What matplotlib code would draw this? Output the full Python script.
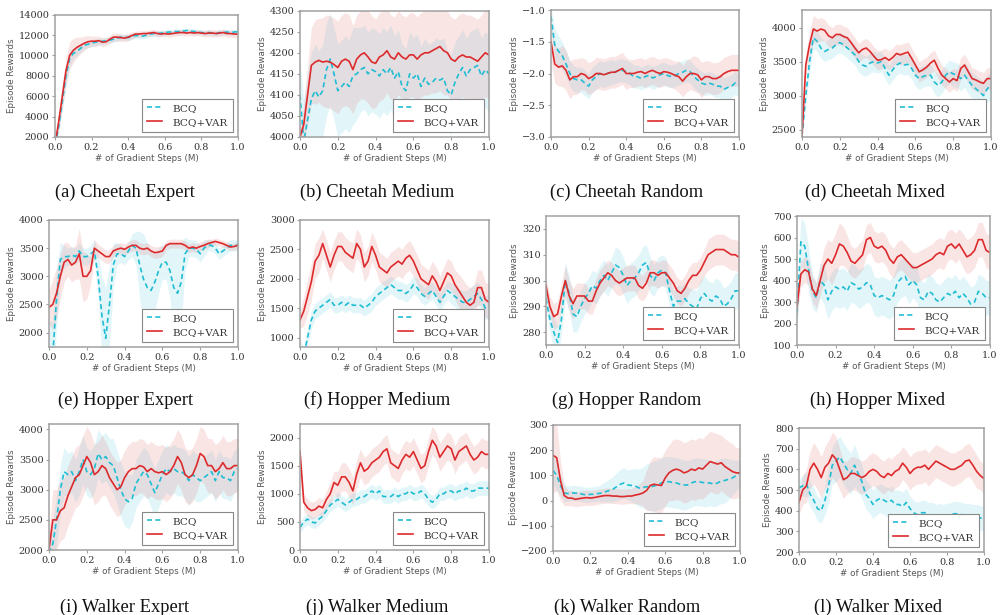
import numpy as np
import matplotlib
matplotlib.use("Agg")
import matplotlib.pyplot as plt

# ---------------- data ----------------
steps = np.linspace(0.0, 1.0, 51)   # gradient steps (M)
labels = ["BCQ", "BCQ+VAR"]
captions = ["(a) Cheetah Expert", "(b) Cheetah Medium", "(c) Cheetah Random", "(d) Cheetah Mixed",
            "(e) Hopper Expert", "(f) Hopper Medium", "(g) Hopper Random", "(h) Hopper Mixed",
            "(i) Walker Expert", "(j) Walker Medium", "(k) Walker Random", "(l) Walker Mixed"]

a_var = [1200, 3500, 6000, 8500, 10000, 10500, 10800, 11000, 11200, 11350,
         11400, 11400, 11450, 11300, 11350, 11600, 11800, 11800, 11750, 11700,
         11800, 11950, 12100, 12100, 12150, 12150, 12200, 12250, 12150, 12100,
         12150, 12100, 12150, 12200, 12250, 12250, 12200, 12250, 12200, 12250,
         12200, 12150, 12200, 12200, 12150, 12200, 12250, 12150, 12150, 12100,
         12100]
a_bcq = [1200, 3000, 5500, 8000, 9700, 10200, 10400, 10700, 11000, 11100,
         11200, 11300, 11350, 11400, 11450, 11500, 11600, 11700, 11800, 11800,
         11750, 11900, 11950, 11950, 11900, 12000, 12100, 12150, 12150, 12200,
         12250, 12300, 12300, 12350, 12350, 12400, 12450, 12400, 12350, 12300,
         12250, 12200, 12250, 12200, 12150, 12250, 12250, 12300, 12250, 12300,
         12350]
a_var_sd = [300, 800, 1200, 1300, 1300, 1200, 1000, 800, 700, 600,
            500, 500, 450, 450, 400, 400, 400, 400, 350, 350,
            350, 350, 300, 300, 300, 300, 300, 300, 300, 300,
            300, 300, 300, 300, 300, 300, 300, 300, 300, 300,
            300, 350, 350, 350, 350, 350, 350, 350, 350, 350,
            350]
a_bcq_sd = [300, 600, 900, 1000, 800, 500, 400, 400, 350, 350,
            350, 350, 300, 300, 300, 300, 300, 300, 300, 300,
            300, 300, 300, 300, 300, 300, 300, 300, 300, 300,
            250, 250, 250, 250, 250, 250, 250, 250, 250, 250,
            250, 250, 250, 250, 250, 250, 250, 250, 250, 250,
            250]

b_var = [4000, 4030, 4100, 4170, 4178, 4182, 4178, 4180, 4178, 4172,
         4165, 4180, 4185, 4180, 4160, 4185, 4195, 4200, 4190, 4178,
         4175, 4190, 4195, 4205, 4190, 4185, 4200, 4190, 4185, 4195,
         4195, 4185, 4195, 4200, 4200, 4205, 4210, 4215, 4205, 4200,
         4185, 4180, 4190, 4195, 4190, 4190, 4185, 4180, 4190, 4200,
         4195]
b_bcq = [4100, 3990, 4040, 4090, 4110, 4095, 4110, 4160, 4185, 4150,
         4110, 4120, 4130, 4120, 4145, 4150, 4160, 4165, 4150, 4160,
         4155, 4145, 4160, 4150, 4165, 4140, 4155, 4120, 4110, 4150,
         4140, 4150, 4120, 4140, 4125, 4130, 4140, 4135, 4140, 4110,
         4100, 4130, 4150, 4165, 4145, 4160, 4165, 4170, 4145, 4160,
         4150]
b_var_sd = [10, 50, 70, 90, 100, 100, 105, 110, 110, 110,
            110, 110, 110, 110, 105, 105, 105, 110, 110, 110,
            105, 105, 105, 100, 100, 100, 100, 100, 100, 100,
            100, 100, 100, 100, 100, 100, 105, 105, 105, 100,
            100, 100, 100, 100, 100, 100, 100, 100, 100, 105,
            105]
b_bcq_sd = [80, 100, 110, 110, 110, 110, 110, 110, 110, 110,
            110, 110, 110, 110, 115, 110, 100, 100, 100, 100,
            100, 100, 100, 100, 100, 100, 100, 100, 100, 100,
            95, 95, 95, 95, 95, 95, 95, 95, 95, 95,
            95, 95, 90, 90, 90, 90, 90, 90, 90, 90,
            90]

c_var = [-1.5, -1.85, -1.9, -1.88, -1.95, -2.1, -2.05, -2.05, -2.0, -2.02,
         -2.08, -2.05, -2.0, -2.0, -2.02, -2.0, -1.98, -1.98, -1.95, -1.92,
         -2.0, -2.0, -2.0, -1.98, -1.97, -2.0, -1.97, -1.95, -1.98, -2.0,
         -1.97, -1.98, -2.0, -2.03, -2.05, -2.12, -2.05, -2.0, -2.0, -2.02,
         -2.1, -2.05, -2.05, -2.08, -2.08, -2.05, -2.0, -1.97, -1.95, -1.95,
         -1.95]
c_bcq = [-1.1, -1.55, -1.65, -1.72, -1.85, -2.0, -2.08, -2.1, -2.1, -2.15,
         -2.2, -2.1, -2.05, -2.0, -2.02, -2.0, -1.98, -1.98, -1.95, -1.95,
         -1.97, -2.0, -2.05, -2.05, -2.08, -2.05, -2.03, -2.07, -2.05, -2.02,
         -2.0, -2.03, -2.05, -2.03, -2.0, -1.98, -1.95, -1.97, -2.05, -2.1,
         -2.15, -2.17, -2.15, -2.17, -2.2, -2.2, -2.25, -2.22, -2.2, -2.15,
         -2.18]
c_var_sd = [0.3, 0.3, 0.3, 0.32, 0.32, 0.3, 0.28, 0.28, 0.25, 0.25,
            0.25, 0.25, 0.25, 0.25, 0.25, 0.25, 0.25, 0.25, 0.25, 0.25,
            0.25, 0.22, 0.22, 0.22, 0.22, 0.22, 0.22, 0.22, 0.22, 0.22,
            0.22, 0.22, 0.22, 0.22, 0.25, 0.25, 0.25, 0.25, 0.28, 0.28,
            0.28, 0.25, 0.25, 0.25, 0.25, 0.25, 0.25, 0.25, 0.25, 0.25,
            0.25]
c_bcq_sd = [0.15, 0.25, 0.25, 0.22, 0.2, 0.2, 0.2, 0.2, 0.2, 0.2,
            0.2, 0.2, 0.2, 0.2, 0.2, 0.2, 0.2, 0.18, 0.18, 0.18,
            0.18, 0.18, 0.18, 0.18, 0.18, 0.18, 0.18, 0.18, 0.18, 0.18,
            0.18, 0.18, 0.18, 0.18, 0.18, 0.18, 0.18, 0.18, 0.18, 0.18,
            0.18, 0.18, 0.18, 0.18, 0.18, 0.18, 0.18, 0.18, 0.18, 0.18,
            0.18]

d_var = [2400, 3450, 3750, 3980, 3950, 3980, 3960, 3880, 3850, 3900,
         3900, 3870, 3850, 3780, 3700, 3630, 3680, 3700, 3650, 3580,
         3520, 3530, 3560, 3520, 3560, 3620, 3600, 3620, 3640, 3550,
         3450, 3350, 3380, 3420, 3480, 3520, 3400, 3300, 3250, 3200,
         3250, 3220, 3400, 3450, 3350, 3250, 3230, 3200, 3180, 3250,
         3250]
d_bcq = [2400, 3000, 3500, 3850, 3800, 3700, 3650, 3680, 3700, 3750,
         3780, 3750, 3700, 3650, 3600, 3500, 3450, 3430, 3480, 3500,
         3480, 3500, 3400, 3300, 3380, 3450, 3480, 3450, 3460, 3400,
         3300, 3250, 3280, 3300, 3300, 3200, 3150, 3200, 3300, 3350,
         3320, 3300, 3250, 3300, 3220, 3150, 3100, 3050, 3000, 3100,
         3150]
d_var_sd = [50, 150, 200, 200, 180, 170, 160, 160, 150, 150,
            150, 150, 150, 150, 150, 140, 140, 140, 140, 140,
            140, 140, 140, 140, 140, 140, 150, 150, 150, 150,
            150, 150, 150, 150, 150, 150, 150, 150, 150, 150,
            150, 160, 160, 160, 160, 160, 160, 160, 160, 160,
            160]
d_bcq_sd = [50, 150, 180, 160, 150, 150, 150, 150, 150, 150,
            150, 150, 150, 150, 150, 150, 150, 150, 150, 150,
            150, 150, 150, 150, 150, 150, 150, 150, 150, 150,
            160, 160, 160, 160, 160, 170, 170, 170, 170, 170,
            180, 180, 180, 180, 190, 190, 200, 200, 200, 200,
            200]

e_var = [2450, 2500, 2700, 3000, 3250, 3300, 3200, 3250, 3400, 3000,
         3000, 3100, 3500, 3450, 3400, 3350, 3350, 3450, 3480, 3500,
         3480, 3520, 3550, 3550, 3500, 3480, 3500, 3450, 3420, 3430,
         3450, 3550, 3580, 3580, 3580, 3580, 3550, 3500, 3520, 3500,
         3530, 3550, 3580, 3600, 3620, 3600, 3580, 3550, 3520, 3530,
         3550]
e_bcq = [1700, 1600, 2600, 3300, 3350, 3350, 3380, 3350, 3450, 3350,
         3350, 3400, 3450, 3000, 2300, 1900, 2500, 3200, 3400, 3400,
         3350, 3450, 3550, 3500, 3200, 2950, 2800, 2750, 2900, 3100,
         3250, 3250, 3100, 2800, 2700, 2900, 3400, 3500, 3500, 3480,
         3400, 3500, 3550, 3550, 3500, 3400, 3450, 3500, 3550, 3550,
         3550]
e_var_sd = [300, 450, 450, 400, 350, 300, 300, 300, 450, 450,
            400, 250, 150, 120, 120, 120, 120, 100, 100, 100,
            100, 100, 100, 100, 100, 100, 100, 100, 100, 100,
            100, 80, 80, 80, 80, 80, 80, 80, 80, 80,
            80, 80, 80, 60, 60, 60, 60, 60, 60, 60,
            60]
e_bcq_sd = [500, 600, 500, 300, 200, 150, 150, 150, 150, 150,
            150, 150, 200, 400, 700, 900, 700, 400, 200, 150,
            150, 150, 200, 300, 600, 800, 800, 700, 500, 400,
            300, 300, 500, 800, 900, 700, 300, 150, 150, 150,
            150, 150, 100, 100, 100, 100, 100, 100, 100, 100,
            100]

f_var = [1300, 1450, 1700, 1950, 2300, 2400, 2600, 2400, 2200, 2400,
         2550, 2550, 2450, 2400, 2350, 2600, 2500, 2200, 2300, 2550,
         2400, 2200, 2150, 2100, 2200, 2250, 2300, 2250, 2350, 2400,
         2300, 2150, 2000, 1950, 1900, 2050, 1950, 1800, 1950, 2100,
         2050, 1900, 1800, 1700, 1600, 1550, 1600, 1850, 1850, 1650,
         1600]
f_bcq = [800, 700, 1000, 1300, 1450, 1500, 1550, 1600, 1650, 1550,
         1550, 1600, 1550, 1600, 1550, 1550, 1550, 1500, 1550, 1600,
         1700, 1750, 1800, 1850, 1900, 1850, 1800, 1800, 1750, 1800,
         1900, 1850, 1750, 1700, 1750, 1800, 1700, 1600, 1700, 1800,
         1750, 1700, 1650, 1600, 1600, 1650, 1700, 1750, 1650, 1500,
         1550]
f_var_sd = [150, 250, 300, 300, 300, 300, 250, 250, 250, 250,
            250, 250, 250, 250, 250, 250, 250, 250, 250, 250,
            250, 250, 250, 250, 250, 250, 250, 250, 250, 250,
            250, 250, 250, 250, 250, 250, 250, 250, 250, 250,
            250, 250, 280, 300, 300, 300, 300, 300, 300, 300,
            300]
f_bcq_sd = [150, 150, 150, 150, 130, 130, 130, 130, 130, 130,
            130, 130, 130, 130, 130, 130, 130, 130, 150, 150,
            150, 150, 150, 150, 150, 150, 150, 150, 150, 150,
            150, 150, 150, 150, 150, 150, 150, 150, 150, 150,
            180, 180, 180, 200, 200, 200, 200, 200, 200, 200,
            200]

g_var = [298, 290, 286, 287, 294, 300, 294, 291, 294, 294,
         294, 292, 292, 296, 299, 301, 303, 302, 300, 299,
         300, 301, 301, 301, 298, 297, 299, 303, 303, 302,
         303, 303, 301, 299, 296, 295, 297, 300, 302, 302,
         304, 307, 310, 311, 312, 312, 312, 311, 310, 310,
         309]
g_bcq = [293, 285, 280, 276, 285, 300, 295, 287, 286, 290,
         293, 295, 298, 297, 300, 302, 300, 303, 306, 305,
         302, 298, 300, 301, 303, 306, 307, 302, 300, 303,
         304, 303, 296, 290, 292, 292, 293, 291, 290, 289,
         293, 295, 293, 292, 294, 293, 290, 291, 293, 296,
         296]
g_var_sd = [3, 4, 5, 5, 5, 6, 6, 6, 5, 5,
            5, 5, 5, 5, 5, 5, 5, 5, 5, 5,
            5, 5, 5, 5, 5, 5, 5, 5, 5, 5,
            5, 5, 5, 5, 5, 5, 5, 5, 5, 5,
            5, 5, 6, 6, 6, 6, 6, 6, 6, 6,
            6]
g_bcq_sd = [4, 5, 6, 6, 6, 7, 7, 7, 6, 6,
            6, 6, 6, 6, 6, 6, 6, 6, 7, 7,
            7, 7, 7, 7, 7, 7, 7, 7, 6, 6,
            6, 6, 6, 6, 6, 6, 6, 6, 7, 7,
            7, 7, 7, 7, 7, 7, 7, 7, 7, 7,
            7]

h_var = [280, 430, 450, 440, 360, 330, 400, 470, 500, 480,
         520, 570, 560, 530, 490, 480, 500, 520, 590, 600,
         560, 550, 560, 540, 500, 480, 510, 520, 500, 480,
         460, 460, 470, 480, 490, 500, 520, 530, 520, 560,
         570, 550, 570, 540, 510, 520, 540, 590, 590, 540,
         530]
h_bcq = [250, 580, 560, 450, 350, 320, 400, 380, 310, 350,
         370, 360, 370, 350, 390, 380, 360, 370, 390, 380,
         330, 320, 330, 320, 310, 330, 390, 410, 420, 380,
         400, 380, 320, 310, 350, 340, 310, 300, 320, 340,
         330, 350, 320, 340, 320, 290, 300, 350, 340, 320,
         320]
h_var_sd = [50, 60, 60, 60, 60, 60, 70, 80, 90, 100,
            100, 100, 90, 80, 70, 70, 70, 70, 70, 70,
            70, 70, 70, 70, 70, 70, 70, 70, 70, 70,
            70, 70, 70, 70, 70, 70, 70, 70, 70, 70,
            70, 70, 70, 80, 80, 80, 80, 80, 80, 80,
            80]
h_bcq_sd = [80, 110, 110, 100, 80, 70, 80, 90, 90, 90,
            90, 90, 90, 90, 90, 90, 90, 90, 90, 90,
            90, 90, 90, 90, 90, 90, 90, 90, 90, 90,
            80, 80, 80, 80, 80, 80, 80, 80, 80, 80,
            80, 80, 80, 80, 80, 80, 80, 80, 80, 80,
            80]

i_var = [2000, 2500, 2500, 2650, 2700, 2900, 3050, 3200, 3250, 3400,
         3550, 3450, 3250, 3300, 3400, 3350, 3200, 3100, 3000, 3050,
         3200, 3300, 3350, 3350, 3400, 3380, 3300, 3350, 3300, 3280,
         3300, 3250, 3300, 3400, 3550, 3450, 3250, 3200, 3250, 3400,
         3600, 3550, 3400, 3400, 3300, 3350, 3450, 3350, 3350, 3400,
         3400]
i_bcq = [1950, 2100, 2500, 3000, 3300, 3250, 3300, 3150, 3300, 3500,
         3300, 3250, 3350, 3600, 3500, 3550, 3450, 3400, 3200, 3000,
         2850, 2800, 2850, 3100, 3200, 3300, 3250, 3100, 2950, 3100,
         3250, 3350, 3300, 3350, 3300, 3300, 3250, 3150, 3250, 3200,
         3150, 3200, 3250, 3300, 3150, 3300, 3200, 3200, 3150, 3300,
         3350]
i_var_sd = [300, 500, 500, 500, 500, 500, 500, 500, 500, 500,
            500, 500, 500, 500, 500, 450, 450, 450, 450, 450,
            450, 450, 450, 450, 450, 450, 450, 450, 450, 450,
            450, 450, 450, 450, 450, 450, 450, 450, 450, 450,
            450, 450, 450, 450, 450, 450, 450, 450, 450, 450,
            450]
i_bcq_sd = [300, 400, 400, 400, 400, 350, 350, 350, 400, 400,
            400, 400, 400, 400, 400, 400, 400, 450, 450, 450,
            450, 450, 400, 400, 400, 400, 400, 400, 400, 400,
            400, 400, 400, 400, 400, 400, 400, 400, 400, 400,
            350, 350, 350, 350, 350, 350, 350, 350, 350, 350,
            350]

j_var = [1750, 850, 750, 700, 720, 780, 750, 900, 1000, 1200,
         1150, 1300, 1300, 1200, 1050, 1350, 1550, 1400, 1450, 1550,
         1600, 1650, 1750, 1800, 1550, 1500, 1450, 1600, 1700, 1650,
         1750, 1600, 1450, 1500, 1750, 1950, 1850, 1650, 1750, 1850,
         1800, 1600, 1750, 1800, 1850, 1700, 1600, 1650, 1750, 1700,
         1700]
j_bcq = [400, 500, 550, 500, 480, 550, 600, 700, 800, 850,
         900, 850, 800, 850, 900, 900, 950, 950, 1000, 1050,
         1000, 1050, 950, 950, 950, 1000, 950, 1000, 1000, 1050,
         1000, 1000, 1050, 1000, 900, 850, 900, 1000, 1000, 1050,
         1050, 1000, 1050, 1050, 1100, 1050, 1050, 1100, 1100, 1100,
         1100]
j_var_sd = [100, 150, 150, 150, 150, 150, 150, 150, 200, 200,
            250, 250, 250, 250, 250, 250, 250, 250, 250, 250,
            250, 250, 250, 250, 250, 250, 250, 250, 250, 250,
            250, 250, 250, 250, 250, 250, 250, 250, 250, 250,
            250, 250, 250, 250, 250, 250, 250, 250, 250, 250,
            250]
j_bcq_sd = [100, 100, 100, 100, 100, 100, 100, 110, 110, 120,
            120, 120, 120, 120, 120, 120, 120, 120, 120, 120,
            120, 120, 120, 120, 120, 120, 120, 120, 120, 120,
            120, 120, 120, 120, 120, 120, 120, 120, 120, 120,
            130, 130, 130, 130, 130, 130, 130, 130, 130, 130,
            130]

k_var = [180, 170, 80, 20, 10, 10, 5, 8, 10, 12,
         10, 12, 15, 18, 20, 20, 18, 18, 16, 16,
         18, 18, 22, 25, 30, 40, 60, 65, 62, 60,
         90, 110, 120, 125, 120, 110, 115, 125, 120, 130,
         125, 140, 155, 150, 145, 150, 135, 125, 115, 110,
         110]
k_bcq = [120, 100, 60, 30, 28, 30, 30, 28, 25, 22,
         25, 25, 28, 30, 35, 40, 45, 55, 65, 70,
         62, 60, 58, 50, 52, 55, 55, 58, 62, 70,
         75, 75, 72, 70, 65, 62, 62, 70, 75, 75,
         72, 70, 70, 65, 70, 78, 80, 85, 90, 100,
         110]
k_var_sd = [150, 130, 80, 40, 30, 30, 30, 30, 30, 30,
            30, 30, 30, 30, 30, 30, 30, 30, 30, 30,
            30, 30, 35, 40, 50, 80, 100, 110, 110, 110,
            110, 110, 120, 120, 120, 120, 120, 120, 120, 120,
            120, 120, 120, 120, 120, 110, 110, 110, 110, 100,
            100]
k_bcq_sd = [60, 60, 40, 35, 30, 30, 30, 30, 30, 30,
            30, 30, 30, 35, 40, 45, 50, 55, 60, 60,
            60, 65, 70, 75, 80, 90, 95, 100, 100, 100,
            100, 100, 100, 100, 100, 100, 95, 95, 95, 95,
            95, 95, 90, 90, 90, 90, 90, 80, 70, 60,
            50]

l_var = [440, 500, 520, 600, 630, 600, 560, 610, 630, 670,
         650, 600, 550, 560, 580, 580, 570, 560, 570, 590,
         600, 590, 570, 560, 580, 570, 590, 600, 630, 610,
         580, 600, 610, 610, 620, 600, 620, 640, 630, 620,
         610, 600, 600, 610, 620, 640, 645, 620, 590, 570,
         555]
l_bcq = [510, 520, 530, 480, 450, 410, 400, 450, 520, 620,
         640, 660, 630, 600, 580, 620, 580, 540, 480, 460,
         430, 450, 460, 450, 440, 450, 430, 430, 420, 440,
         410, 390, 380, 390, 390, 380, 380, 370, 375, 370,
         375, 380, 385, 385, 380, 375, 375, 370, 370, 365,
         360]
l_var_sd = [60, 70, 80, 90, 100, 100, 100, 100, 110, 110,
            110, 100, 90, 80, 80, 80, 80, 80, 80, 80,
            80, 80, 80, 80, 80, 80, 80, 80, 80, 80,
            80, 80, 80, 80, 80, 80, 80, 80, 80, 80,
            80, 80, 80, 80, 80, 80, 80, 80, 80, 70,
            70]
l_bcq_sd = [40, 50, 60, 60, 60, 60, 60, 70, 80, 90,
            100, 100, 100, 100, 100, 100, 90, 80, 70, 70,
            70, 70, 70, 70, 70, 70, 70, 70, 70, 70,
            60, 60, 60, 60, 60, 60, 60, 60, 60, 60,
            60, 60, 60, 60, 60, 60, 60, 60, 60, 60,
            60]

series = [(a_bcq, a_bcq_sd, a_var, a_var_sd), (b_bcq, b_bcq_sd, b_var, b_var_sd),
          (c_bcq, c_bcq_sd, c_var, c_var_sd), (d_bcq, d_bcq_sd, d_var, d_var_sd),
          (e_bcq, e_bcq_sd, e_var, e_var_sd), (f_bcq, f_bcq_sd, f_var, f_var_sd),
          (g_bcq, g_bcq_sd, g_var, g_var_sd), (h_bcq, h_bcq_sd, h_var, h_var_sd),
          (i_bcq, i_bcq_sd, i_var, i_var_sd), (j_bcq, j_bcq_sd, j_var, j_var_sd),
          (k_bcq, k_bcq_sd, k_var, k_var_sd), (l_bcq, l_bcq_sd, l_var, l_var_sd)]

ylims = [(2000, 14000), (4000, 4300), (-3.0, -1.0), (2390, 4260),
         (1745, 4000), (840, 3000), (275, 325), (100, 700),
         (2000, 4090), (0, 2240), (-200, 300), (200, 800)]
yticks = [np.arange(2000, 14001, 2000), np.arange(4000, 4301, 50), np.arange(-3.0, -0.99, 0.5),
          np.arange(2500, 4001, 500),
          np.arange(2000, 4001, 500), np.arange(1000, 3001, 500), np.arange(280, 321, 10),
          np.arange(100, 701, 100),
          np.arange(2000, 4001, 500), np.arange(0, 2001, 500), np.arange(-200, 301, 100),
          np.arange(200, 801, 100)]

# ---------------- layout (pixels: left, right, top, bottom) ----------------
W, H = 1000, 615
boxes = [(55, 238, 14.7, 137), (300, 489, 10.7, 137), (551, 739, 10, 137), (802, 991, 10, 137),
         (49, 238, 220, 347), (300, 489, 220, 347), (546, 739, 216, 345), (797, 990, 216, 345),
         (49, 238, 424, 550), (300, 489, 424, 550), (553, 740, 425, 551), (799, 984, 428, 552)]
cap_pos = [(125, 197), (377, 197), (627, 197), (875, 197),
           (126, 405), (377, 405), (627, 405), (877, 405),
           (125, 612), (377, 612), (627, 612), (878, 612)]

RED = "#dd2a2c"
CYAN = "#1fbdd3"
SPINE = "#a0a0a0"

fig = plt.figure(figsize=(W / 100, H / 100), dpi=100)
fig.patch.set_facecolor("white")

for idx in range(12):
    l, r, t, b = boxes[idx]
    ax = fig.add_axes([l / W, 1 - b / H, (r - l) / W, (b - t) / H])
    bcq, bcq_sd, var, var_sd = [np.asarray(v, dtype=float) for v in series[idx]]
    ax.fill_between(steps, bcq - bcq_sd, bcq + bcq_sd, color=CYAN, alpha=0.13, lw=0)
    ax.fill_between(steps, var - var_sd, var + var_sd, color=RED, alpha=0.12, lw=0)
    ax.plot(steps, bcq, color=CYAN, lw=1.2, ls=(0, (3, 2)), label=labels[0])
    ax.plot(steps, var, color=RED, lw=1.2, label=labels[1])
    ax.set_xlim(0, 1)
    ax.set_ylim(*ylims[idx])
    ax.set_xticks(np.arange(0, 1.01, 0.2))
    ax.set_yticks(yticks[idx])
    ax.xaxis.set_major_formatter(matplotlib.ticker.FormatStrFormatter("%.1f"))
    if idx == 2:
        ax.yaxis.set_major_formatter(matplotlib.ticker.FuncFormatter(
            lambda v, p: ("%.1f" % v).replace("-", "\u2212")))
    for s in ax.spines.values():
        s.set_color(SPINE)
        s.set_linewidth(1.1)
    ax.tick_params(direction="out", length=2.5, width=0.8, color=SPINE,
                   labelsize=7, labelcolor="#333333", pad=1.5)
    for lab in ax.get_xticklabels() + ax.get_yticklabels():
        lab.set_family("DejaVu Serif")
    ax.set_xlabel("# of Gradient Steps (M)", fontsize=6.3, color="#555555",
                  family="DejaVu Sans", labelpad=1.5)
    ax.set_ylabel("Episode Rewards", fontsize=6.3, color="#555555",
                  family="DejaVu Sans", labelpad=2)
    leg = ax.legend(loc="lower right", prop={"family": "DejaVu Serif", "size": 7.5},
                    frameon=True, fancybox=False, framealpha=1, edgecolor="#888888",
                    handlelength=1.5, handletextpad=1.0, labelspacing=0.45,
                    borderpad=0.5, borderaxespad=0.45)
    leg.get_frame().set_linewidth(0.8)
    for txt in leg.get_texts():
        txt.set_color("#333333")
    cx, cy = cap_pos[idx]
    fig.text(cx / W, 1 - cy / H, captions[idx], ha="center", va="baseline",
             fontsize=13.3, family="Liberation Serif", color="#111111")

fig.savefig("out.png", dpi=100, facecolor="white")
